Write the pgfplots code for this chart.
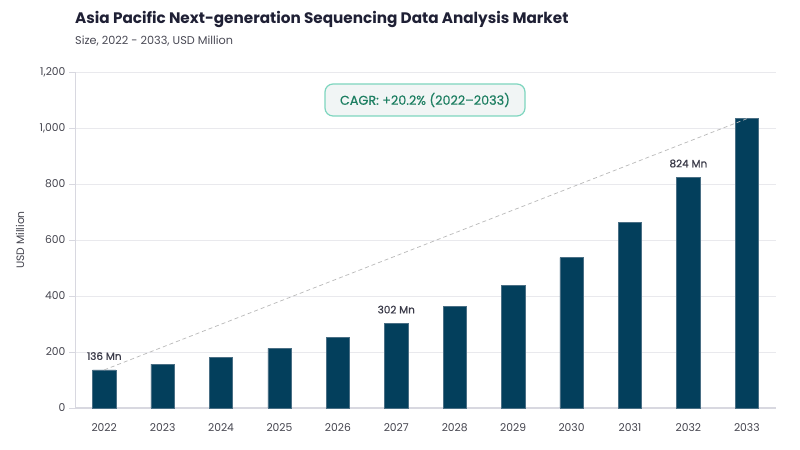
\documentclass[border=0pt]{standalone}
\usepackage{fontspec}
\setmainfont{Poppins}
\newfontfamily\medfont{Poppins}[FakeBold=0.6,Ligatures=TeX]
\usepackage{pgfplots}
\pgfplotsset{compat=1.18}
\definecolor{barc}{HTML}{033F5C}
\definecolor{baredge}{HTML}{4A6F85}
\definecolor{titlec}{HTML}{1F2035}
\definecolor{subc}{HTML}{4A4A55}
\definecolor{tickc}{HTML}{45454F}
\definecolor{labc}{HTML}{3A3A48}
\definecolor{gridc}{HTML}{E9E9ED}
\definecolor{axisc}{HTML}{D8D8E0}
\definecolor{cagrtext}{HTML}{1E7F62}
\definecolor{cagrborder}{HTML}{7ED6BF}
\definecolor{cagrfill}{HTML}{F1F5F5}
\begin{document}
\begin{tikzpicture}[x=1bp,y=1bp]
\useasboundingbox (0,0) rectangle (800,450);
\fill[white] (0,0) rectangle (800,450);
\node[anchor=west, inner sep=0, text=titlec, font=\bfseries\fontsize{15.3}{18}\selectfont] at (75,430) {Asia Pacific Next-generation Sequencing Data Analysis Market};
\node[anchor=west, inner sep=0, text=subc, font=\fontsize{11.3}{13}\selectfont] at (75,409) {Size, 2022 - 2033, USD Million};
\begin{axis}[
  at={(75bp,42bp)}, anchor=south west,
  scale only axis, width=701bp, height=336bp,
  xmin=-0.5, xmax=11.5, ymin=0, ymax=1200,
  xtick={0,...,11},
  xticklabels={2022,2023,2024,2025,2026,2027,2028,2029,2030,2031,2032,2033},
  ytick={0,200,...,1200},
  axis x line=bottom, axis y line=left,
  x axis line style={-, draw=axisc, line width=1.6bp},
  y axis line style={-, draw=axisc, line width=0.8bp},
  ymajorgrids, grid style={draw=gridc, line width=0.7bp},
  xtick style={draw=none},
  ytick style={draw=axisc, line width=0.7bp},
  tick align=outside, major tick length=6bp,
  /pgf/number format/assume math mode=true,
  /pgf/number format/1000 sep={,},
  ticklabel style={font=\fontsize{10.8}{12}\selectfont, text=tickc},
  xticklabel style={yshift=-6bp},
  clip=false,
]
\addplot[ybar, bar width=23.3bp, fill=barc, draw=baredge, line width=0.5bp] coordinates {
(0,136) (1,157) (2,182) (3,213) (4,252) (5,302) (6,362) (7,438) (8,537) (9,662) (10,824) (11,1033)
};
\addplot[draw=gray!55, line width=0.7bp, dash pattern=on 4bp off 3bp] coordinates {(0,136) (11,1033)};
\node[anchor=base, yshift=10bp, text=labc, font=\medfont\fontsize{10.5}{12}\selectfont] at (axis cs:0,136) {136 Mn};
\node[anchor=base, yshift=10bp, text=labc, font=\medfont\fontsize{10.5}{12}\selectfont] at (axis cs:5,302) {302 Mn};
\node[anchor=base, yshift=10bp, text=labc, font=\medfont\fontsize{10.5}{12}\selectfont] at (axis cs:10,824) {824 Mn};
\end{axis}
\node[draw=cagrborder, fill=cagrfill, line width=1.2bp, rounded corners=8bp, minimum width=200bp, minimum height=32bp, text=cagrtext, font=\medfont\fontsize{12.8}{14}\selectfont] at (425,350) {CAGR: +20.2\% (2022–2033)};
\node[rotate=90, text=tickc, font=\fontsize{10.8}{12}\selectfont] at (20,210) {USD Million};
\end{tikzpicture}
\end{document}
